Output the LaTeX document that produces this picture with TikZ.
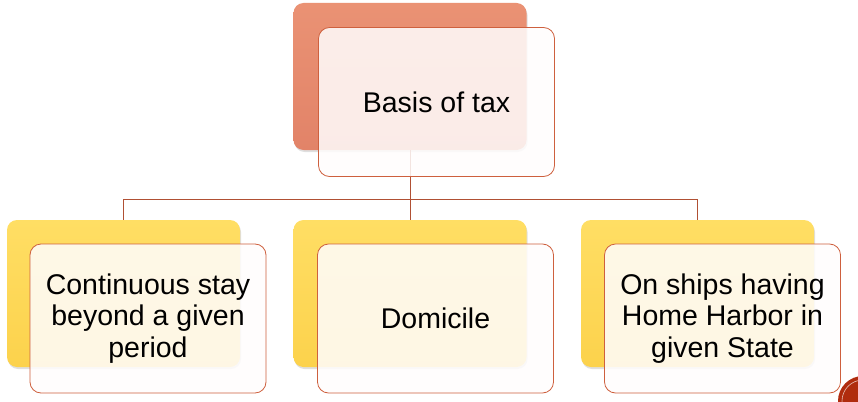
\documentclass[tikz,border=0pt]{standalone}
\usepackage{fontspec}
\setmainfont{Liberation Sans}
\usetikzlibrary{shadows}

\definecolor{backorange}{RGB}{226,131,104}
\definecolor{backorangetop}{RGB}{234,146,116}
\definecolor{backyellow}{RGB}{252,210,76}
\definecolor{backyellowtop}{RGB}{255,222,100}
\definecolor{rimred}{RGB}{206,96,62}
\definecolor{linkred}{RGB}{176,80,52}
\definecolor{dotred}{RGB}{176,44,14}

\tikzset{
    backbox/.style={rounded corners=10pt, inner sep=0pt, minimum width=233pt,
        minimum height=147pt, draw=none,
        drop shadow={opacity=0.25, shadow xshift=1pt, shadow yshift=-2pt}},
    frontbox/.style={rounded corners=11pt, inner sep=0pt, minimum width=236pt,
        minimum height=149pt, draw=rimred, line width=0.8pt,
        fill=white!97!pink, fill opacity=0.86, text opacity=1,
        align=center, font=\fontsize{28.5}{31.5}\selectfont},
    link/.style={draw=linkred, line width=0.8pt}
}

\begin{document}
\begin{tikzpicture}[x=1pt, y=-1pt]
    \useasboundingbox (0,0) rectangle (858,401);
    \clip (0,0) rectangle (858,401);
    \fill [white] (0,0) rectangle (858,401);

    % back boxes
    \node [backbox, top color=backorangetop, bottom color=backorange] (tb) at (410,76.5) {};
    \node [backbox, top color=backyellowtop, bottom color=backyellow] (lb) at (123.5,293.5) {};
    \node [backbox, top color=backyellowtop, bottom color=backyellow] (mb) at (410,293.5) {};
    \node [backbox, top color=backyellowtop, bottom color=backyellow] (rb) at (697.5,293.5) {};

    % connectors
    \draw [link] (tb.south) -- ++(0,49) coordinate (bus);
    \draw [link] (lb.north) |- (bus) -| (rb.north);
    \draw [link] (bus) -- (mb.north);

    % front boxes
    \node [frontbox] (tf) at (436.5,102) {Basis of tax};
    \node [frontbox] (lf) at (148,318.5) {Continuous stay\\beyond a given\\period};
    \node [frontbox] (mf) at (435.5,318.5) {Domicile};
    \node [frontbox] (rf) at (722.5,318.5) {On ships having\\Home Harbor in\\given State};

    % corner dot
    \fill [dotred] (863,401) circle (25);
    \draw [white!70!dotred, line width=0.6pt] (863,401) circle (21);
\end{tikzpicture}
\end{document}
